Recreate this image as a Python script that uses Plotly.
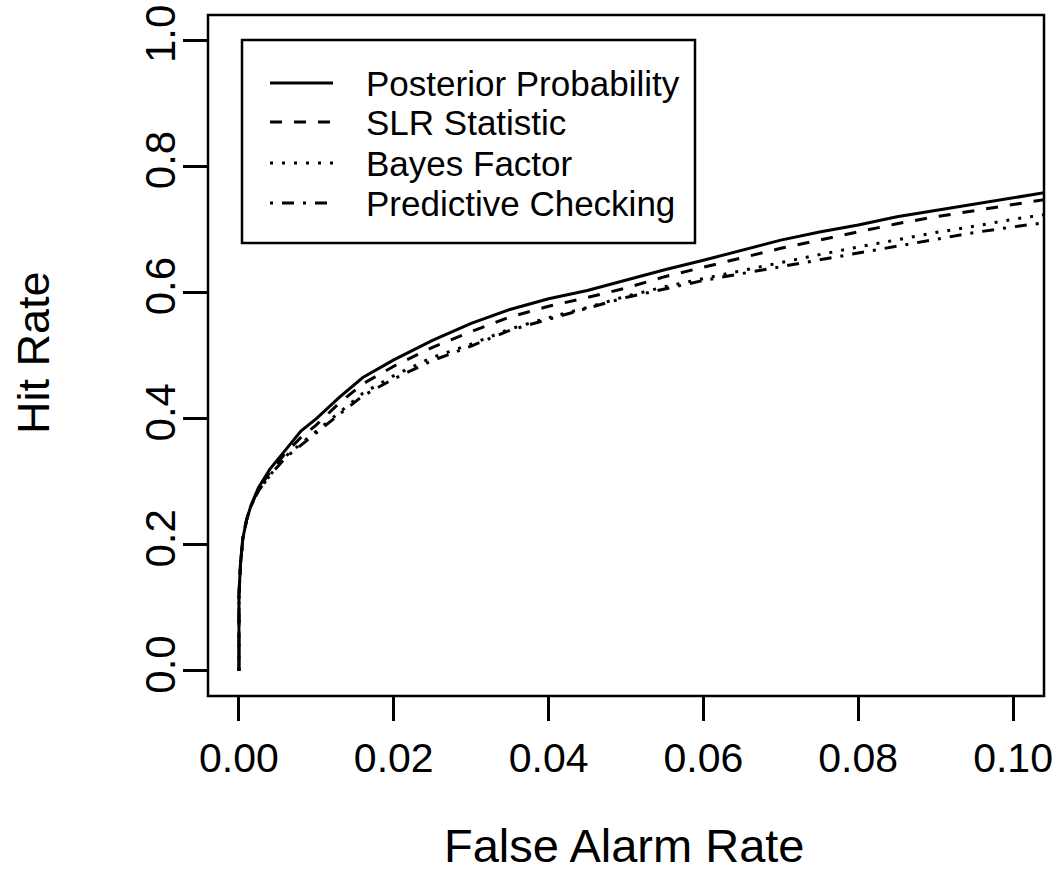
import plotly.graph_objects as go

# ROC-style curves: false alarm rate vs hit rate
false_alarm = [0, 0, 0.0002, 0.0005, 0.001, 0.0015, 0.0025, 0.004, 0.006, 0.008,
               0.010, 0.013, 0.016, 0.020, 0.025, 0.030, 0.035, 0.040, 0.045, 0.050,
               0.055, 0.060, 0.065, 0.070, 0.075, 0.080, 0.085, 0.090, 0.095, 0.100, 0.105]
posterior = [0, 0.12, 0.17, 0.21, 0.24, 0.26, 0.29, 0.32, 0.35, 0.38,
             0.40, 0.434, 0.465, 0.493, 0.524, 0.551, 0.573, 0.590, 0.603, 0.620,
             0.636, 0.651, 0.667, 0.683, 0.696, 0.707, 0.720, 0.730, 0.740, 0.750, 0.760]
slr = [0, 0.12, 0.17, 0.21, 0.24, 0.26, 0.288, 0.315, 0.345, 0.37,
       0.39, 0.425, 0.455, 0.483, 0.513, 0.538, 0.561, 0.578, 0.592, 0.607,
       0.625, 0.640, 0.655, 0.670, 0.683, 0.696, 0.709, 0.720, 0.730, 0.740, 0.749]
bayes = [0, 0.12, 0.17, 0.21, 0.24, 0.26, 0.285, 0.31, 0.34, 0.36,
         0.38, 0.41, 0.44, 0.468, 0.497, 0.518, 0.542, 0.560, 0.576, 0.594,
         0.609, 0.622, 0.635, 0.648, 0.660, 0.672, 0.684, 0.695, 0.705, 0.716, 0.725]
predictive = [0, 0.12, 0.17, 0.21, 0.24, 0.26, 0.285, 0.31, 0.338, 0.358,
              0.378, 0.407, 0.436, 0.463, 0.492, 0.515, 0.540, 0.558, 0.575, 0.592,
              0.606, 0.619, 0.630, 0.641, 0.652, 0.663, 0.674, 0.685, 0.695, 0.704, 0.712]

names = ["Posterior Probability", "SLR Statistic", "Bayes Factor", "Predictive Checking"]
series = [posterior, slr, bayes, predictive]
dashes = ["solid", "12px,12px", "3px,9px", "3px,9px,12px,9px"]

x_ticks = [0, 0.02, 0.04, 0.06, 0.08, 0.10]
y_ticks = [0, 0.2, 0.4, 0.6, 0.8, 1.0]

W, H = 1057, 894
L, R, T, B = 208, 13, 15, 198
FONT = "Liberation Sans, Arial, Helvetica, sans-serif"


def px(xp, yp):
    # pixel -> paper coords
    return (xp - L) / (W - L - R), (H - B - yp) / (H - T - B)


fig = go.Figure()
for nm, ys, d in zip(names, series, dashes):
    fig.add_trace(go.Scatter(x=false_alarm, y=ys, mode="lines", name=nm,
                             line=dict(color="black", width=3, dash=d),
                             showlegend=False))

# plot frame
fig.add_shape(type="rect", xref="paper", yref="paper", x0=0, y0=0, x1=1, y1=1,
              line=dict(color="black", width=2.5))

# legend drawn by hand to match the R layout
bx0, by0 = px(242, 40)
bx1, by1 = px(695, 243)
fig.add_shape(type="rect", xref="paper", yref="paper", x0=bx0, y0=by1, x1=bx1, y1=by0,
              line=dict(color="black", width=2.5), fillcolor="white", layer="above")
rows = [83, 122, 163, 203]
for nm, d, ry in zip(names, dashes, rows):
    lx0, ly = px(270, ry)
    lx1, _ = px(333, ry)
    fig.add_shape(type="line", xref="paper", yref="paper", x0=lx0, x1=lx1, y0=ly, y1=ly,
                  line=dict(color="black", width=3, dash=d), layer="above")
    tx, _ = px(364, ry)
    fig.add_annotation(text=nm, xref="paper", yref="paper", x=tx, y=ly,
                       xanchor="left", yanchor="middle", showarrow=False,
                       font=dict(size=35, color="black", family=FONT))

# axis titles
ax, ay = px(624, 845)
fig.add_annotation(text="False Alarm Rate", xref="paper", yref="paper", x=ax, y=ay,
                   xanchor="center", yanchor="middle", showarrow=False,
                   font=dict(size=47, color="black", family=FONT))
hx, hy = px(33, 353)
fig.add_annotation(text="Hit Rate", xref="paper", yref="paper", x=hx, y=hy, textangle=-90,
                   xanchor="center", yanchor="middle", showarrow=False,
                   font=dict(size=45, color="black", family=FONT))

fig.update_xaxes(range=[-0.004, 0.104], tickvals=x_ticks, tickformat=".2f",
                 ticks="outside", ticklen=24, tickwidth=2.5, tickcolor="black",
                 ticklabelstandoff=2, ticklabeloverflow="allow",
                 showgrid=False, zeroline=False, showline=False,
                 tickfont=dict(size=41, color="black", family=FONT))
fig.update_yaxes(range=[-0.04, 1.04], tickvals=y_ticks, tickformat=".1f", tickangle=-90,
                 ticks="outside", ticklen=24, tickwidth=2.5, tickcolor="black",
                 ticklabelstandoff=-9, ticklabeloverflow="allow",
                 showgrid=False, zeroline=False, showline=False,
                 tickfont=dict(size=42, color="black", family=FONT))

fig.update_layout(width=W, height=H, margin=dict(l=L, r=R, t=T, b=B, autoexpand=False),
                  paper_bgcolor="white", plot_bgcolor="white", showlegend=False)

# drop the browser's default body margin so the figure fills the window exactly
fig.write_html("out.html", config={"displayModeBar": False},
               post_script="document.body.style.margin='0';document.body.style.overflow='hidden';")
